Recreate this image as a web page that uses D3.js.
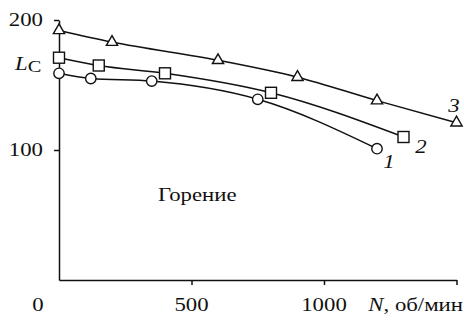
<!DOCTYPE html>
<html>
<head>
<meta charset="utf-8">
<script src="https://cdn.jsdelivr.net/npm/d3@7"></script>
<style>
  body { margin: 0; background: #fff; }
  text { font-family: "Liberation Serif", "Times New Roman", serif; fill: #111; }
</style>
</head>
<body>
<div id="chart"></div>
<script>
// data: N (об/мин) vs L_C
const series1N = [0, 120, 350, 750, 1200];
const series1L = [159, 155, 153, 139, 101];
const series2N = [0, 150, 400, 800, 1300];
const series2L = [171, 165, 159, 144, 110];
const series3N = [0, 200, 600, 900, 1200, 1500];
const series3L = [192, 183, 169, 156, 138, 121];
const seriesNames = ['1', '2', '3'];
const xTicks = [500, 1000, 1500];
const yTicks = [100, 200];

const width = 464;
const height = 320;

const svg = d3.select('#chart')
  .append('svg')
  .attr('width', width)
  .attr('height', height);

const x = d3.scaleLinear().domain([0, 1500]).range([59, 456.5]);
const y = d3.scaleLinear().domain([0, 200]).range([280, 20]);

const sx = 1.2; // the reference text is a bit wide
function label(txt, px, py, anchor, opts) {
  const t = svg.append('text')
    .attr('transform', `translate(${px},${py}) scale(${sx},1)`)
    .attr('text-anchor', anchor)
    .attr('font-size', 19)
    .text(txt);
  if (opts && opts.italic) t.attr('font-style', 'italic');
  return t;
}

// axes
svg.append('g')
  .attr('transform', `translate(0,${y(0)})`)
  .call(d3.axisBottom(x).tickValues(xTicks).tickSize(5).tickSizeOuter(0).tickFormat(''));
svg.append('g')
  .attr('transform', `translate(${x(0)},0)`)
  .call(d3.axisLeft(y).tickValues(yTicks).tickSize(5).tickSizeOuter(0).tickFormat(''));
svg.selectAll('.domain, .tick line').attr('stroke', '#111').attr('stroke-width', 1.5);

// tick labels
yTicks.forEach(v => label(v, 43, y(v) + 6, 'end'));
label('0', 38, 311, 'middle');
xTicks.filter(v => v < 1500).forEach(v => label(v, x(v), 311, 'middle'));

// axis titles
const nt = svg.append('text')
  .attr('transform', `translate(463,311) scale(${sx},1)`)
  .attr('text-anchor', 'end')
  .attr('font-size', 19);
nt.append('tspan').attr('font-style', 'italic').text('N');
nt.append('tspan').text(', об/мин');

const lt = svg.append('text')
  .attr('transform', `translate(15,70) scale(${sx},1)`)
  .attr('font-size', 19);
lt.append('tspan').attr('font-style', 'italic').text('L');
lt.append('tspan').attr('dy', 2).attr('font-size', 17).text('C');

label('Горение', 158, 201, 'start');

// curves
const line = d3.line()
  .x(d => x(d[0]))
  .y(d => y(d[1]))
  .curve(d3.curveMonotoneX);

const allSeries = [
  d3.zip(series1N, series1L),
  d3.zip(series2N, series2L),
  d3.zip(series3N, series3L)
];

allSeries.forEach(pts => {
  svg.append('path')
    .datum(pts)
    .attr('d', line)
    .attr('fill', 'none')
    .attr('stroke', '#111')
    .attr('stroke-width', 1.5);
});

// markers
svg.selectAll('circle.m1')
  .data(allSeries[0])
  .enter()
  .append('circle')
  .attr('cx', d => x(d[0]))
  .attr('cy', d => y(d[1]))
  .attr('r', 5.2)
  .attr('fill', '#fff')
  .attr('stroke', '#111')
  .attr('stroke-width', 1.4);

svg.selectAll('rect.m2')
  .data(allSeries[1])
  .enter()
  .append('rect')
  .attr('x', d => x(d[0]) - 5.5)
  .attr('y', d => y(d[1]) - 5.5)
  .attr('width', 11)
  .attr('height', 11)
  .attr('fill', '#fff')
  .attr('stroke', '#111')
  .attr('stroke-width', 1.4);

const tri = d3.symbol().type(d3.symbolTriangle).size(55);
svg.selectAll('path.m3')
  .data(allSeries[2])
  .enter()
  .append('path')
  .attr('d', tri)
  .attr('transform', d => `translate(${x(d[0])},${y(d[1])})`)
  .attr('fill', '#fff')
  .attr('stroke', '#111')
  .attr('stroke-width', 1.4);

// curve numbers
const numPos = [[389, 168], [421, 153], [454, 112]];
seriesNames.forEach((s, i) => label(s, numPos[i][0], numPos[i][1], 'middle', { italic: true }));
</script>
</body>
</html>
